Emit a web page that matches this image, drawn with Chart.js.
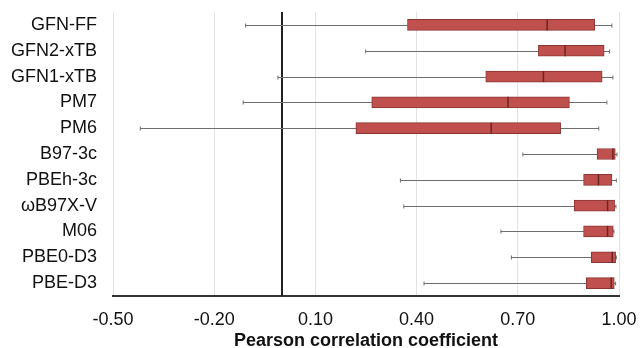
<!DOCTYPE html>
<html>
<head>
<meta charset="utf-8">
<script src="https://cdn.jsdelivr.net/npm/chart.js@4/dist/chart.umd.min.js"></script>
<style>
  html, body { margin: 0; padding: 0; background: #fff; }
  #wrap { width: 640px; height: 348px; }
</style>
</head>
<body>
<div id="wrap"><canvas id="boxChart"></canvas></div>
<script>
const methods = ['GFN-FF', 'GFN2-xTB', 'GFN1-xTB', 'PM7', 'PM6', 'B97-3c', 'PBEh-3c', 'ωB97X-V', 'M06', 'PBE0-D3', 'PBE-D3'];
const whiskerLow  = [-0.107, 0.249, -0.011, -0.114, -0.419, 0.715, 0.352, 0.362, 0.650, 0.681, 0.422];
const quartile1   = [0.373, 0.761, 0.605, 0.267, 0.220, 0.935, 0.895, 0.867, 0.895, 0.918, 0.903];
const medians     = [0.787, 0.840, 0.776, 0.671, 0.621, 0.982, 0.939, 0.966, 0.966, 0.980, 0.977];
const quartile3   = [0.928, 0.956, 0.950, 0.853, 0.827, 0.989, 0.979, 0.987, 0.983, 0.990, 0.986];
const whiskerHigh = [0.979, 0.972, 0.982, 0.964, 0.940, 0.994, 0.992, 0.991, 0.985, 0.992, 0.990];
const xTicks = [-0.5, -0.2, 0.1, 0.4, 0.7, 1.0];

const boxFill = '#c0504d';
const boxEdge = '#8a3533';
const labelFont = 'Liberation Sans, Arial, sans-serif';

// whiskers + zero line go under the boxes, medians on top
const boxPlotExtras = {
    id: 'boxPlotExtras',
    beforeDatasetsDraw(chart) {
        const { ctx, chartArea, scales: { x, y } } = chart;
        ctx.save();
        const zx = Math.round(x.getPixelForValue(0));
        ctx.strokeStyle = '#222';
        ctx.lineWidth = 2;
        ctx.beginPath();
        ctx.moveTo(zx, chartArea.top);
        ctx.lineTo(zx, chartArea.bottom);
        ctx.stroke();

        ctx.strokeStyle = '#6e6e6e';
        ctx.lineWidth = 1;
        methods.forEach((m, i) => {
            const cy = Math.round(y.getPixelForValue(i)) + 0.5;
            const lo = x.getPixelForValue(whiskerLow[i]);
            const hi = x.getPixelForValue(whiskerHigh[i]);
            ctx.beginPath();
            ctx.moveTo(lo, cy);
            ctx.lineTo(hi, cy);
            ctx.moveTo(lo, cy - 2);
            ctx.lineTo(lo, cy + 2);
            ctx.moveTo(hi, cy - 2);
            ctx.lineTo(hi, cy + 2);
            ctx.stroke();
        });
        ctx.restore();
    },
    afterDatasetsDraw(chart) {
        const { ctx, scales: { x } } = chart;
        const meta = chart.getDatasetMeta(0);
        ctx.save();
        ctx.strokeStyle = '#6b2624';
        ctx.lineWidth = 1.5;
        medians.forEach((v, i) => {
            const bar = meta.data[i];
            const mx = x.getPixelForValue(v);
            ctx.beginPath();
            ctx.moveTo(mx, bar.y - bar.height / 2);
            ctx.lineTo(mx, bar.y + bar.height / 2);
            ctx.stroke();
        });
        ctx.restore();
    }
};

const ctx = document.getElementById('boxChart').getContext('2d');
new Chart(ctx, {
    type: 'bar',
    data: {
        labels: methods,
        datasets: [{
            data: methods.map((m, i) => [quartile1[i], quartile3[i]]),
            backgroundColor: boxFill,
            borderColor: boxEdge,
            borderWidth: 1,
            borderSkipped: false,
            barThickness: 11
        }]
    },
    options: {
        indexAxis: 'y',
        responsive: true,
        maintainAspectRatio: false,
        animation: false,
        layout: { padding: { top: 12, right: 21, bottom: 0, left: 0 } },
        plugins: {
            legend: { display: false },
            tooltip: { enabled: false }
        },
        scales: {
            x: {
                min: -0.5,
                max: 1.0,
                afterBuildTicks: scale => {
                    scale.ticks = xTicks.map(v => ({ value: v }));
                },
                afterFit: scale => {
                    scale.height = 52;
                    scale.paddingLeft = 0;
                    scale.paddingRight = 0;
                },
                ticks: {
                    color: '#111',
                    padding: 13,
                    font: { family: labelFont, size: 18 },
                    callback: value => Number(value).toFixed(2)
                },
                grid: { color: '#e2e2e2', drawTicks: false },
                border: { display: true, color: '#333', width: 2 },
                title: {
                    display: true,
                    text: 'Pearson correlation coefficient',
                    color: '#111',
                    padding: { top: 0, bottom: -4 },
                    font: { family: labelFont, size: 18, weight: 'bold' }
                }
            },
            y: {
                afterFit: scale => {
                    scale.width = 113;
                    scale.paddingTop = 0;
                    scale.paddingBottom = 0;
                },
                ticks: {
                    autoSkip: false,
                    color: '#111',
                    padding: 16,
                    font: { family: labelFont, size: 18 }
                },
                grid: { display: false, drawTicks: false },
                border: { display: false }
            }
        }
    },
    plugins: [boxPlotExtras]
});
</script>
</body>
</html>
